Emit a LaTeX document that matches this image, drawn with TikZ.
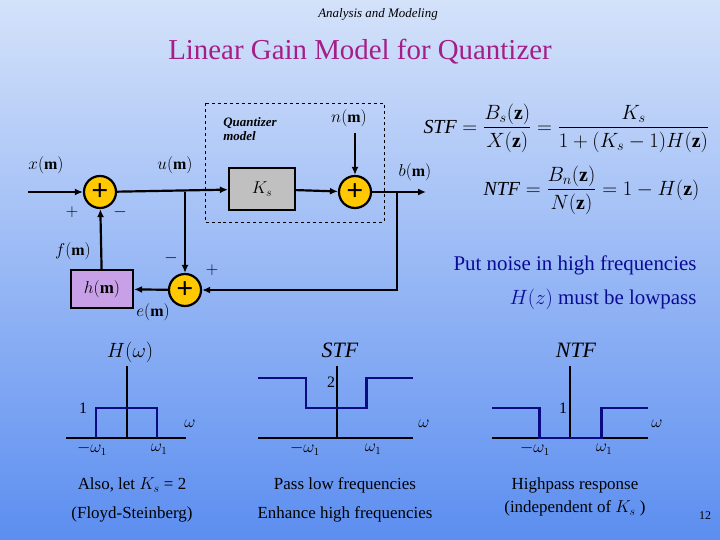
\documentclass[tikz,border=0pt]{standalone}
\usepackage{amsmath}
\usepackage{fontspec}
\setmainfont{Liberation Serif}
\usetikzlibrary{arrows.meta}
\definecolor{BgTop}{RGB}{212, 226, 250}
\definecolor{BgBot}{RGB}{92, 142, 240}
\definecolor{TitleMag}{RGB}{165, 30, 135}
\definecolor{NoteBlue}{RGB}{10, 10, 150}
\definecolor{PlotBlue}{RGB}{10, 10, 130}
\definecolor{SumYellow}{RGB}{255, 200, 0}
\definecolor{GainGray}{RGB}{192, 192, 192}
\definecolor{FiltPurple}{RGB}{200, 160, 232}

\begin{document}
\begin{tikzpicture}[
        x=1bp, y=-1bp,
        font=\fontsize{17}{19}\selectfont,
        sum/.style = {circle, draw=black, line width=2.2pt, fill=SumYellow, minimum size=32bp, inner sep=0pt, font=\fontsize{30}{30}\selectfont\bfseries},
        blk/.style = {draw=black, line width=2.2pt, minimum width=66bp, minimum height=42bp},
        wire/.style = {line width=2.2pt, -{Latex[length=8bp,width=7bp]}},
        axis/.style = {line width=2pt},
        resp/.style = {line width=3pt, PlotBlue},
        lbl/.style = {font=\fontsize{16}{18}\selectfont}
    ]
    \shade[top color=BgTop, bottom color=BgBot] (0,0) rectangle (720,540);
    \useasboundingbox (0,0) rectangle (720,540);

    % titles
    \node at (378,14) {\fontsize{13}{15}\selectfont\itshape Analysis and Modeling};
    \node[TitleMag] at (360,52) {\fontsize{29}{32}\selectfont Linear Gain Model for Quantizer};

    % quantizer model
    \draw[dashed, thick] (205,103) rectangle (384,222);
    \node[align=left, font=\fontsize{13}{14}\selectfont\itshape\bfseries] at (250,129) {Quantizer\\model};

    \node (S1) at (100,192) [sum] {+};
    \node (S2) at (355,192) [sum] {+};
    \node (S3) at (185,290) [sum] {+};
    \node (K)  at (262,189) [blk, fill=GainGray] {$K_s$};
    \node (H)  at (102,289) [blk, minimum width=62bp, minimum height=38bp, fill=FiltPurple] {$h(\mathbf{m})$};

    \coordinate (xin) at (28,192);
    \coordinate (bout) at (426,192);
    \coordinate (nin) at (355,133);
    \coordinate (tap) at (185,192);
    \coordinate (fb) at (397,192);

    \draw[wire] (xin) -- (S1);
    \draw[wire] (S1) -- (K);
    \draw[wire] (K) -- (S2);
    \draw[wire] (S2) -- (bout);
    \draw[wire] (nin) -- (S2);
    \draw[wire] (tap) -- (S3);
    \draw[wire] (fb) |- (S3);
    \draw[wire] (S3) -- (H);
    \draw[wire] (H) -- (S1);

    \node[lbl] at (46,165) {$x(\mathbf{m})$};
    \node[lbl] at (175,165) {$u(\mathbf{m})$};
    \node[lbl] at (349,118) {$n(\mathbf{m})$};
    \node[lbl] at (415,172) {$b(\mathbf{m})$};
    \node[lbl] at (73,251) {$f(\mathbf{m})$};
    \node[lbl] at (153,312) {$e(\mathbf{m})$};
    \node at (72,212) {$+$};
    \node at (120,212) {$-$};
    \node at (171,258) {$-$};
    \node at (212,270) {$+$};

    % transfer functions
    \node[anchor=west, font=\fontsize{20}{22}\selectfont] at (420,128)
        {$\mathit{STF}=\dfrac{B_s(\mathbf{z})}{X(\mathbf{z})}=\dfrac{K_s}{1+(K_s-1)H(\mathbf{z})}$};
    \node[anchor=west, font=\fontsize{20}{22}\selectfont] at (480,190)
        {$\mathit{NTF}=\dfrac{B_n(\mathbf{z})}{N(\mathbf{z})}=1-H(\mathbf{z})$};

    \node[NoteBlue, anchor=east, align=right, font=\fontsize{21}{34}\selectfont] at (700,283)
        {Put noise in high frequencies\\$H(z)$ must be lowpass};

    % H(omega)
    \node at (130,352) {\fontsize{20}{22}\selectfont$H(\omega)$};
    \draw[axis] (66,438) -- (186,438);
    \draw[axis] (127,366) -- (127,438);
    \draw[resp] (96,438) -- (96,408) -- (157,408) -- (157,438);
    \node[lbl] at (83,408) {1};
    \node[lbl] at (190,424) {$\omega$};
    \node[lbl] at (92,449) {$-\omega_1$};
    \node[lbl] at (159,449) {$\omega_1$};

    % STF
    \node at (340,350) {\fontsize{22}{24}\selectfont$\mathit{STF}$};
    \draw[axis] (258,438) -- (413,438);
    \draw[axis] (337,366) -- (337,438);
    \draw[resp] (258,378) -- (306,378) -- (306,408) -- (366,408) -- (366,378) -- (413,378);
    \node[lbl] at (331,382) {2};
    \node[lbl] at (424,424) {$\omega$};
    \node[lbl] at (305,449) {$-\omega_1$};
    \node[lbl] at (373,449) {$\omega_1$};

    % NTF
    \node at (576,350) {\fontsize{22}{24}\selectfont$\mathit{NTF}$};
    \draw[axis] (492,438) -- (648,438);
    \draw[axis] (570,366) -- (570,438);
    \draw[resp] (492,408) -- (539,408) -- (539,438) -- (601,438) -- (601,408) -- (648,408);
    \node[lbl] at (563,408) {1};
    \node[lbl] at (657,424) {$\omega$};
    \node[lbl] at (535,449) {$-\omega_1$};
    \node[lbl] at (604,449) {$\omega_1$};

    % notes
    \node[align=center, font=\fontsize{17}{29}\selectfont] at (132,500) {Also, let $K_s$ = 2\\(Floyd-Steinberg)};
    \node[align=center, font=\fontsize{17}{29}\selectfont] at (345,500) {Pass low frequencies\\Enhance high frequencies};
    \node[align=center, font=\fontsize{17}{23}\selectfont] at (575,497) {Highpass response\\(independent of $K_s$ )};
    \node[font=\fontsize{12}{14}\selectfont] at (705,516) {12};
\end{tikzpicture}
\end{document}
